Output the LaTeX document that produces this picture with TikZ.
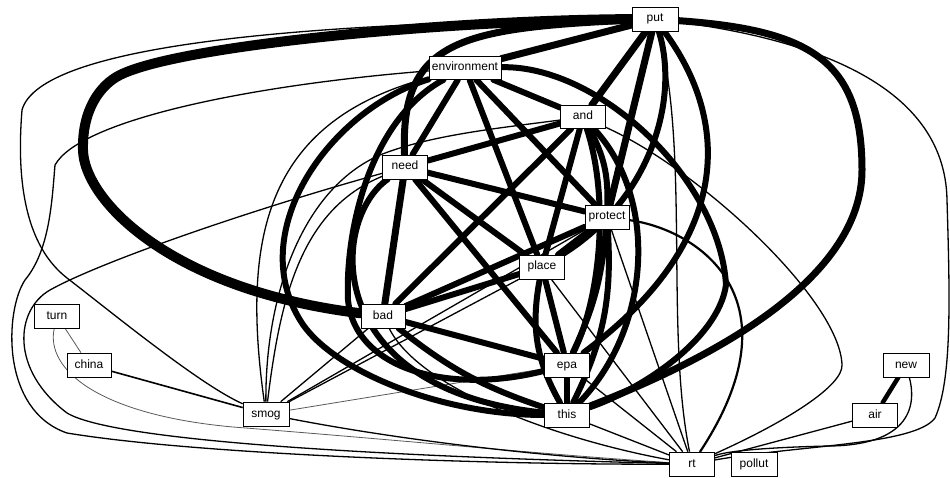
\documentclass[tikz,border=0pt]{standalone}
\usepackage{fontspec}
\setmainfont{Liberation Sans}
\usetikzlibrary{backgrounds}
\begin{document}
\begin{tikzpicture}[x=1pt,y=-1pt,
  box/.style={draw=black, line width=0.6pt, fill=white, minimum width=45pt, minimum height=24pt, inner sep=0pt, text height=6pt, text depth=0pt, font=\fontsize{12}{12}\selectfont},
  wA/.style={line width=10pt, line cap=round},
  wB/.style={line width=7pt, line cap=round},
  wC/.style={line width=6pt, line cap=round},
  wD/.style={line width=4.5pt, line cap=round},
  wE/.style={line width=2.2pt, line cap=round},
  wF/.style={line width=1.3pt},
  wG/.style={line width=0.8pt, draw=black!65}]
\useasboundingbox (0,0) rectangle (950,478);
% nodes
\node[box, minimum width=46pt] (put) at (655,19) {put};
\node[box, minimum width=72pt, minimum height=23pt] (environment) at (465,68) {environment};
\node[box, minimum height=23pt] (and) at (583,117) {and};
\node[box] (need) at (405,167) {need};
\node[box, minimum width=44pt] (protect) at (607,217) {protect};
\node[box] (place) at (542,267) {place};
\node[box, minimum width=44pt] (bad) at (383,316) {bad};
\node[box] (epa) at (567,365) {epa};
\node[box] (this) at (567,415) {this};
\node[box] (turn) at (57,316) {turn};
\node[box, minimum width=44pt] (china) at (89,365) {china};
\node[box, minimum width=46pt] (smog) at (266,414) {smog};
\node[box] (rt) at (692,464) {rt};
\node[box, minimum width=46pt] (pollut) at (754,464) {pollut};
\node[box, minimum width=46pt] (new) at (906,365) {new};
\node[box] (air) at (875,415) {air};
\begin{pgfonlayer}{background}
% thin and grey connectors
\draw[wF] (put) .. controls (300,22) and (40,45) .. (22,110) .. controls (18,160) and (18,240) .. (67,278) .. controls (110,311) and (200,385) .. (smog);
\draw[wF] (environment) .. controls (250,85) and (80,120) .. (55,165) .. controls (52,200) and (50,250) .. (25,280) .. controls (5,310) and (0,410) .. (67,433) .. controls (200,455) and (500,465) .. (rt);
\draw[wF] (need) .. controls (250,210) and (100,262) .. (50,290) .. controls (15,310) and (10,370) .. (67,413) .. controls (120,445) and (450,458) .. (rt);
\draw[wG] (turn) .. controls (45,370) and (100,415) .. (233,427) .. controls (400,440) and (550,455) .. (rt);
\draw[wG] (turn) -- (china);
\draw[line width=1.6pt] (china) -- (smog);
\draw[wF] (smog) .. controls (240,230) and (270,120) .. (environment);
\draw[wF] (smog) .. controls (265,300) and (300,190) .. (380,155) .. controls (430,135) and (500,128) .. (and);
\draw[wF] (smog) .. controls (280,300) and (300,210) .. (need);
\draw[wF] (smog) -- (bad);
\draw[wF] (smog) -- (place);
\draw[wF] (smog) -- (protect);
\draw[wG] (smog) -- (epa);
\draw[wF] (smog) .. controls (400,440) and (550,458) .. (rt);
\draw[wF] (put) .. controls (800,38) and (945,80) .. (947,200) .. controls (950,300) and (952,380) .. (935,418) .. controls (915,445) and (800,445) .. (rt);
\draw[wF] (put) .. controls (690,150) and (665,330) .. (rt);
\draw[wF] (and) .. controls (700,170) and (840,300) .. (842,365) .. controls (843,385) and (790,420) .. (rt);
\draw[wE] (protect) .. controls (700,230) and (800,300) .. (rt);
\draw[wF] (protect) -- (rt);
\draw[wF] (place) -- (rt);
\draw[wF] (bad) .. controls (420,390) and (560,440) .. (rt);
\draw[wF] (epa) -- (rt);
\draw[wF] (this) -- (rt);
\draw[wF] (air) -- (rt);
\draw[wF] (new) .. controls (918,410) and (905,445) .. (830,446) .. controls (780,447) and (730,450) .. (rt);
\draw[wD] (new) -- (air);
% thick core connectors
\draw[wA] (put) .. controls (450,20) and (180,45) .. (120,75) .. controls (100,85) and (82,110) .. (83,150) .. controls (84,200) and (170,290) .. (bad);
\draw[wB] (put) .. controls (460,28) and (400,40) .. (need);
\draw[wB] (put) -- (environment);
\draw[wB] (put) -- (and);
\draw[wB] (put) -- (protect);
\draw[wC] (put) .. controls (680,100) and (650,200) .. (place);
\draw[wC] (put) .. controls (730,120) and (735,240) .. (epa);
\draw[wB] (put) .. controls (810,30) and (862,60) .. (862,170) .. controls (862,260) and (760,340) .. (this);
\draw[wC] (environment) -- (and);
\draw[wC] (environment) -- (need);
\draw[wC] (environment) -- (protect);
\draw[wC] (environment) -- (place);
\draw[wC] (environment) .. controls (330,110) and (245,230) .. (300,320) .. controls (330,370) and (440,415) .. (this);
\draw[wC] (environment) .. controls (370,120) and (345,230) .. (348,300) .. controls (355,370) and (450,395) .. (epa);
\draw[wC] (environment) .. controls (600,65) and (720,180) .. (726,285) .. controls (718,340) and (640,390) .. (this);
\draw[wC] (and) -- (need);
\draw[wC] (and) -- (place);
\draw[wC] (and) -- (bad);
\draw[wC] (and) to[bend left=15] (protect);
\draw[wC] (and) .. controls (610,200) and (600,300) .. (epa);
\draw[wC] (and) .. controls (660,200) and (650,330) .. (this);
\draw[wC] (need) -- (protect);
\draw[wC] (need) -- (place);
\draw[wB] (need) -- (bad);
\draw[wC] (need) -- (epa);
\draw[wC] (need) .. controls (330,220) and (320,390) .. (this);
\draw[wC] (protect) -- (place);
\draw[wC] (protect) -- (bad);
\draw[wC] (protect) to[bend left=10] (epa);
\draw[wC] (protect) to[bend left=15] (this);
\draw[wC] (place) -- (bad);
\draw[wC] (place) -- (epa);
\draw[wC] (place) to[bend right=20] (this);
\draw[wC] (bad) -- (epa);
\draw[wC] (bad) to[bend right=10] (this);
\draw[wC] (epa) -- (this);
\end{pgfonlayer}
\end{tikzpicture}
\end{document}
